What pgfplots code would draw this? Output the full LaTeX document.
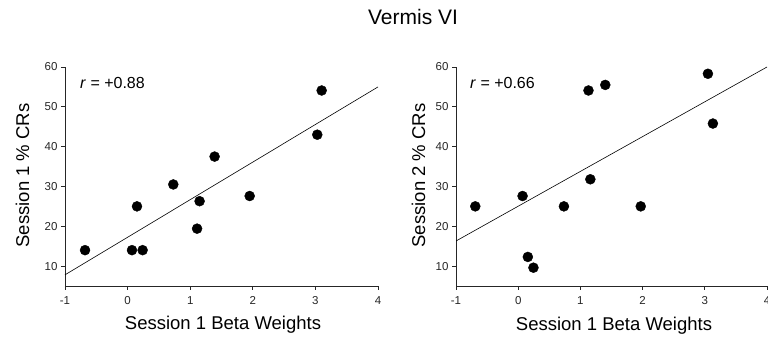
\documentclass[border=0pt]{standalone}
\usepackage{pgfplots}
\pgfplotsset{compat=1.18}
\usepackage{fontspec}
\setmainfont{Liberation Sans}
\pgfplotsset{
  vstyle/.style={
    scale only axis,
    height=219pt,
    xmin=-1, xmax=4, ymin=5, ymax=60,
    axis lines=left,
    axis line style={-, line width=0.8pt, black!85},
    xtick={-1,0,1,2,3,4},
    ytick={10,20,30,40,50,60},
    tick align=outside,
    major tick length=4pt,
    tick style={line width=0.8pt, black!85},
    tick label style={font=\fontsize{11.5}{12}\selectfont, text=black!85},
    xticklabel style={yshift=-3pt},
    /pgf/number format/assume math mode=true,
    anchor=south west,
  }
}
\begin{document}
\begin{tikzpicture}
\useasboundingbox (0pt,0pt) rectangle (768pt,339pt);

\begin{axis}[vstyle, at={(65pt,53pt)}, width=313pt]
\addplot[only marks, mark=*, mark size=5pt, black] coordinates {
(-0.68,14) (0.07,14) (0.24,14) (0.15,25) (0.73,30.5) (1.15,26.3)
(1.11,19.4) (1.39,37.5) (1.95,27.6) (3.03,43.0) (3.10,54.1)
};
\addplot[black, line width=0.6pt] coordinates {(-1,7.8) (4,55.0)};
\end{axis}

\begin{axis}[vstyle, at={(456pt,53pt)}, width=311pt]
\addplot[only marks, mark=*, mark size=5pt, black] coordinates {
(-0.69,25) (0.07,27.6) (0.155,12.3) (0.245,9.6) (0.735,25) (1.16,31.8)
(1.13,54.1) (1.40,55.5) (1.97,25) (3.05,58.3) (3.13,45.8)
};
\addplot[black, line width=0.6pt] coordinates {(-1,16.3) (4,60.0)};
\end{axis}

% titles and labels
\node[anchor=base, font=\fontsize{21}{24}\selectfont] at (413pt,314pt) {Vermis VI};
\node[anchor=base, font=\fontsize{18.5}{20}\selectfont] at (223pt,9pt) {Session 1 Beta Weights};
\node[anchor=base, font=\fontsize{18.5}{20}\selectfont] at (614pt,8pt) {Session 1 Beta Weights};
\node[anchor=base, rotate=90, font=\fontsize{18.5}{20}\selectfont] at (29pt,163.5pt) {Session 1 \% CRs};
\node[anchor=base, rotate=90, font=\fontsize{18.5}{20}\selectfont] at (425pt,163.5pt) {Session 2 \% CRs};
\node[anchor=base west, inner sep=0pt, font=\fontsize{16}{18}\selectfont] at (80pt,250pt) {\textit{r} = +0.88};
\node[anchor=base west, inner sep=0pt, font=\fontsize{16}{18}\selectfont] at (470pt,250pt) {\textit{r} = +0.66};
\end{tikzpicture}
\end{document}
